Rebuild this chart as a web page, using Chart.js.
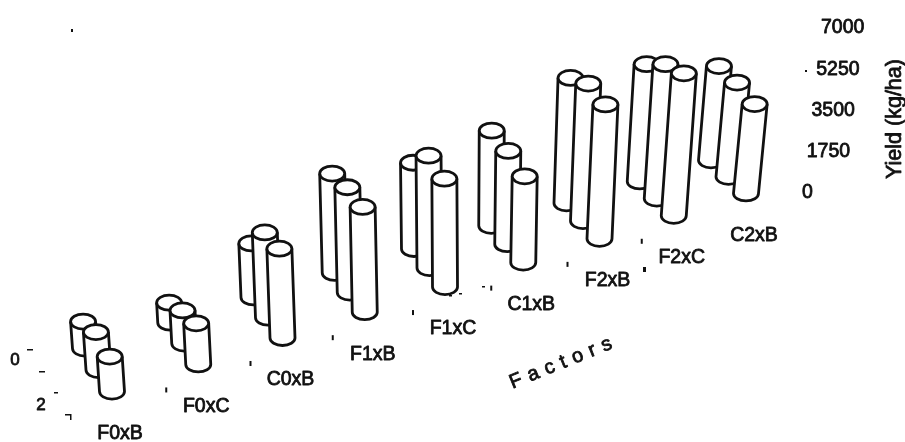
<!DOCTYPE html>
<html>
<head>
<meta charset="utf-8">
<style>
  html, body { margin: 0; padding: 0; background: #fff; }
  #wrap { width: 905px; height: 442px; }
</style>
<script src="https://cdn.jsdelivr.net/npm/chart.js@4"></script>
</head>
<body>
<div id="wrap"><canvas id="myChart" width="905" height="442"></canvas></div>
<script>
const factors = ["F0xB", "F0xC", "C0xB", "F1xB", "F1xC", "C1xB", "F2xB", "F2xC", "C2xB"];
const depthLabels = ["0", "2"];
const yieldTicks = [0, 1750, 3500, 5250, 7000];

// yield (kg/ha), one value per factor, back to front
const level0 = [1150, 850, 2300, 4225, 3670, 4050, 5335, 4990, 4010];
const level1 = [1620, 1410, 3630, 4480, 4780, 3970, 5850, 5720, 4010];
const level2 = [1490, 1750, 3800, 4480, 4610, 3670, 5720, 6060, 3800];
const levels = [level0, level1, level2];

const font = '"Liberation Sans", Arial, sans-serif';
const ink = "#111";

// floor of the 3d box, in x scale units and pixels below the zero line
function floorX(c, d) {
  return 112 + 87.25 * c - c * c - (2 - d) * (13.5 + 0.5 * c);
}
function floorDrop(c, d) {
  return 199 - 27.5 * c + 0.34 * c * c - (2 - d) * (21.5 - 0.62 * c);
}
// cylinders lean away from the middle of the picture
function lean(px) {
  return (px - 477) * (px < 477 ? 0.00018 : 0.00036);
}

// one point per cylinder, drawn order is back to front inside each factor
const points = [];
factors.forEach((name, c) => {
  levels.forEach((row, d) => {
    points.push({ x: floorX(c, d), y: row[c], c: c, d: d });
  });
});

// scanned look: filled text with a thin outline on top
function inkText(ctx, text, x, y) {
  ctx.fillText(text, x, y);
  ctx.strokeText(text, x, y);
}

const cylinderPlugin = {
  id: "cylinders",
  afterDatasetsDraw(chart) {
    const { ctx, scales } = chart;
    const x = scales.x;
    const y = scales.y;
    const zero = y.getPixelForValue(0);

    ctx.save();
    ctx.strokeStyle = ink;
    ctx.fillStyle = "#fff";
    ctx.lineWidth = 2.8;
    ctx.lineJoin = "round";

    points.forEach(p => {
      const bx = x.getPixelForValue(p.x);
      const by = zero + floorDrop(p.c, p.d);
      const h = zero - y.getPixelForValue(p.y);
      const tx = bx + h * lean(bx);
      const ty = by - h;
      const rx = 12.5;
      const ry = 7.5;

      // body
      ctx.beginPath();
      ctx.moveTo(tx - rx, ty);
      ctx.lineTo(bx - rx, by);
      ctx.ellipse(bx, by, rx, ry, 0, Math.PI, 0, true);
      ctx.lineTo(tx + rx, ty);
      ctx.fill();
      ctx.stroke();

      // cap
      ctx.beginPath();
      ctx.ellipse(tx, ty, rx, ry, 0, 0, Math.PI * 2);
      ctx.fill();
      ctx.stroke();
    });

    ctx.fillStyle = ink;
    ctx.lineWidth = 0.8;

    // factor labels and the small ticks between them
    ctx.font = "19.5px " + font;
    ctx.textAlign = "center";
    ctx.textBaseline = "middle";
    factors.forEach((name, c) => {
      const bx = x.getPixelForValue(floorX(c, 2));
      const by = zero + floorDrop(c, 2);
      inkText(ctx, name, bx + 8, by + 42);
      if (c > 0 && c < factors.length - 1) {
        ctx.fillRect(bx - 33, by + 23, 2, 5);
      }
    });

    // depth axis on the left
    ctx.font = "17px " + font;
    inkText(ctx, depthLabels[0], 15, 360);
    inkText(ctx, depthLabels[1], 41, 405);
    ctx.fillRect(27, 349, 6, 1.5);
    ctx.fillRect(39, 371, 6, 1.5);
    ctx.fillRect(54, 392, 4, 1.5);
    ctx.fillRect(65, 414, 6, 1.5);
    ctx.fillRect(70, 414, 1.5, 6);

    // yield axis, labels step to the right as they go up
    ctx.font = "19.5px " + font;
    ctx.textAlign = "left";
    yieldTicks.forEach((v, i) => {
      inkText(ctx, String(v), 802 + i * 4.75, y.getPixelForValue(v));
    });

    ctx.save();
    ctx.translate(895, 119);
    ctx.rotate(-Math.PI / 2);
    ctx.textAlign = "center";
    ctx.font = "21.5px " + font;
    inkText(ctx, "Yield (kg/ha)", 0, 0);
    ctx.restore();

    ctx.save();
    ctx.translate(564, 362);
    ctx.rotate(-22 * Math.PI / 180);
    ctx.textAlign = "center";
    ctx.font = "20px " + font;
    ctx.letterSpacing = "7px";
    inkText(ctx, "Factors", 0, 0);
    ctx.restore();

    // specks from the scan
    ctx.fillRect(71, 29, 2, 3);
    ctx.fillRect(805, 70, 2, 2);
    ctx.fillRect(643, 267, 3, 5);
    ctx.fillRect(482, 286, 3, 1.5);
    ctx.fillRect(449, 295, 3, 1.5);
    ctx.fillRect(459, 293, 3, 1.5);

    ctx.restore();
  }
};

new Chart(document.getElementById("myChart"), {
  type: "scatter",
  data: {
    datasets: [{
      label: "Yield (kg/ha)",
      data: points,
      pointRadius: 0,
      pointHoverRadius: 0
    }]
  },
  options: {
    responsive: false,
    animation: false,
    layout: { padding: 0 },
    plugins: { legend: { display: false }, tooltip: { enabled: false } },
    scales: {
      x: { type: "linear", display: false, min: 0, max: 905 },
      // 0 sits at y=192 and 7000 at y=28, the floor hangs below the zero line
      y: { type: "linear", display: false, min: -10610, max: 8195 }
    }
  },
  plugins: [cylinderPlugin]
});
</script>
</body>
</html>
